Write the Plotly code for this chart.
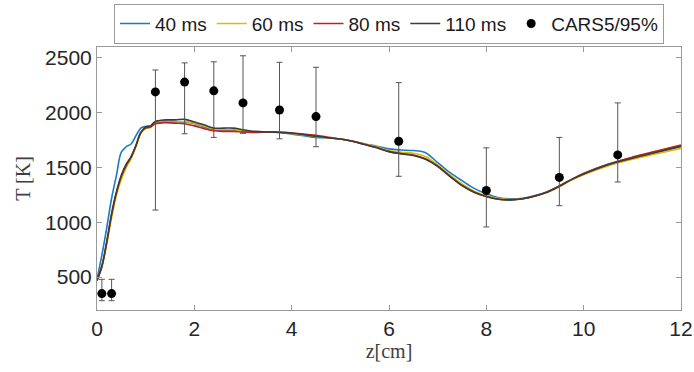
import plotly.graph_objects as go

z = [0, 0.1, 0.2, 0.3, 0.4, 0.5, 0.6, 0.7, 0.8, 0.9, 1.0, 1.1, 1.2, 1.4, 1.6, 1.8,
     2.0, 2.2, 2.4, 2.6, 2.8, 3.0, 3.25, 3.5, 3.75, 4.0, 4.25, 4.5, 4.75, 5.0,
     5.25, 5.5, 5.75, 6.0, 6.25, 6.5, 6.75, 7.0, 7.25, 7.5, 7.75, 8.0, 8.25, 8.5,
     8.75, 9.0, 9.25, 9.5, 9.75, 10.0, 10.5, 11.0, 11.5, 12.0]

T_40 = [480, 700, 950, 1220, 1430, 1640, 1690, 1715, 1790, 1860, 1875, 1880, 1920, 1925, 1920, 1915,
        1900, 1870, 1845, 1840, 1840, 1830, 1825, 1825, 1820, 1805, 1790, 1775, 1770, 1760,
        1740, 1715, 1695, 1670, 1660, 1655, 1635, 1545, 1455, 1380, 1310, 1260, 1225, 1215,
        1220, 1245, 1280, 1330, 1390, 1445, 1530, 1590, 1640, 1690]

T_60 = [470, 590, 800, 1040, 1250, 1390, 1500, 1580, 1690, 1810, 1855, 1865, 1905, 1915, 1915, 1920,
        1905, 1880, 1850, 1845, 1845, 1835, 1825, 1825, 1822, 1810, 1797, 1782, 1772, 1760,
        1742, 1715, 1690, 1655, 1640, 1630, 1600, 1525, 1435, 1350, 1285, 1245, 1218, 1208,
        1215, 1240, 1275, 1325, 1385, 1435, 1515, 1575, 1625, 1675]

T_80 = [470, 600, 820, 1070, 1270, 1420, 1520, 1595, 1700, 1820, 1860, 1870, 1900, 1910, 1905, 1900,
        1880, 1855, 1835, 1830, 1830, 1825, 1820, 1825, 1825, 1815, 1805, 1795, 1775, 1760,
        1740, 1712, 1682, 1645, 1628, 1615, 1580, 1512, 1422, 1338, 1275, 1235, 1210, 1205,
        1215, 1240, 1278, 1332, 1392, 1445, 1530, 1595, 1650, 1705]

T_110 = [470, 600, 820, 1080, 1280, 1430, 1530, 1600, 1700, 1820, 1870, 1880, 1920, 1935, 1935, 1940,
         1915, 1890, 1860, 1860, 1860, 1845, 1830, 1825, 1820, 1815, 1800, 1785, 1772, 1760,
         1740, 1710, 1680, 1645, 1625, 1610, 1575, 1510, 1420, 1335, 1275, 1235, 1210, 1205,
         1215, 1240, 1275, 1330, 1390, 1440, 1525, 1585, 1640, 1695]

cars_z = [0.1, 0.3, 1.2, 1.8, 2.4, 3.0, 3.75, 4.5, 6.2, 8.0, 9.5, 10.7]
cars_T = [350, 350, 2190, 2280, 2200, 2090, 2025, 1965, 1740, 1290, 1410, 1615]
cars_hi = [480, 480, 2390, 2455, 2465, 2520, 2460, 2415, 2275, 1680, 1775, 2090]
cars_lo = [285, 285, 1112, 1808, 1775, 1812, 1762, 1690, 1420, 958, 1152, 1368]

fig = go.Figure()
series = [("40 ms", T_40, "#1a7ac8"), ("60 ms", T_60, "#d4c200"),
          ("80 ms", T_80, "#c0201a"), ("110 ms", T_110, "#3c3c3c")]
for name, vals, col in series:
    fig.add_trace(go.Scatter(x=z, y=vals, mode="lines", name=name,
                             line=dict(color=col, width=1.6, shape="spline")))

fig.add_trace(go.Scatter(
    x=cars_z, y=cars_T, mode="markers", name="CARS5/95%",
    marker=dict(color="black", size=9),
    error_y=dict(type="data", symmetric=False,
                 array=[h - t for h, t in zip(cars_hi, cars_T)],
                 arrayminus=[t - l for t, l in zip(cars_T, cars_lo)],
                 color="#555555", thickness=1, width=3)))

axis_common = dict(showgrid=False, zeroline=False, showline=True, linecolor="#9a9a9a",
                   linewidth=1, mirror="ticks", ticks="inside", ticklen=5,
                   tickcolor="#9a9a9a", automargin=False,
                   tickfont=dict(family="Liberation Sans, Arial", size=21, color="#262626"))

fig.update_layout(
    width=694, height=372,
    margin=dict(l=97, r=13, t=47, b=62, autoexpand=False),
    paper_bgcolor="white", plot_bgcolor="white",
    showlegend=True,
    legend=dict(orientation="h", x=0.5, xanchor="center", y=1.165, yanchor="top",
                bordercolor="#9a9a9a", borderwidth=1,
                font=dict(family="Liberation Sans, Arial", size=19, color="#1a1a1a"),
                itemwidth=30, tracegroupgap=0, bgcolor="white"),
    xaxis=dict(range=[0, 12], tickvals=[0, 2, 4, 6, 8, 10, 12],
               title=dict(text="z[cm]", standoff=2,
                          font=dict(family="Liberation Serif, DejaVu Serif", size=20, color="#404040")),
               **axis_common),
    yaxis=dict(range=[200, 2600], tickvals=[500, 1000, 1500, 2000, 2500],
               title=dict(text="T [K]", standoff=9,
                          font=dict(family="Liberation Serif, DejaVu Serif", size=20, color="#404040")),
               **axis_common),
)

fig.write_html("out.html", config={"displayModeBar": False},
               post_script="document.body.style.margin='0';document.body.style.overflow='hidden';")
